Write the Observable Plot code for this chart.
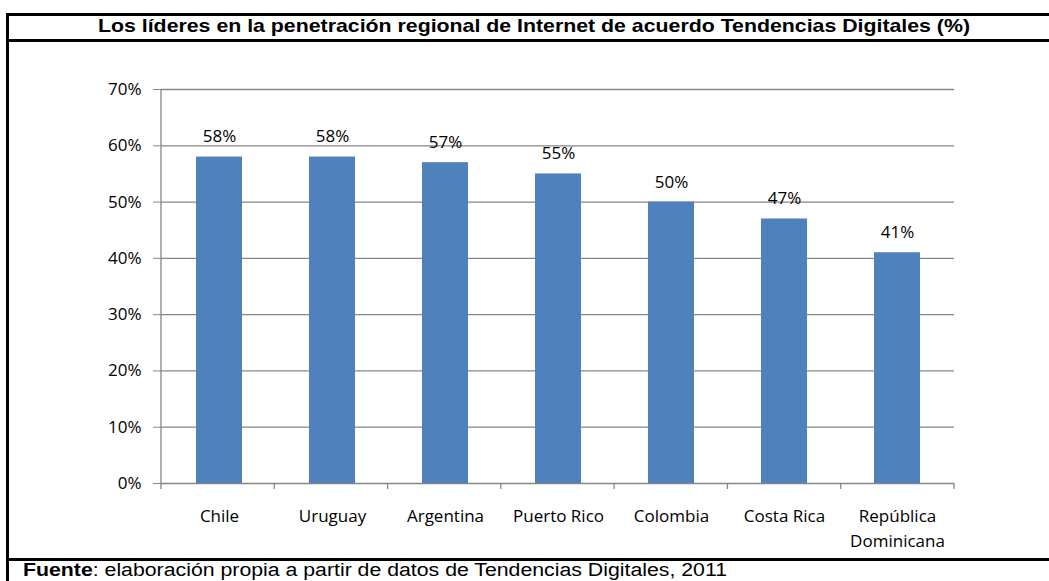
<!DOCTYPE html>
<html><head><meta charset="utf-8">
<script src="https://cdn.jsdelivr.net/npm/d3@7"></script>
<script src="https://cdn.jsdelivr.net/npm/@observablehq/plot@0.6"></script>
<style>
html,body{margin:0;padding:0;background:#fff;}
#page{position:relative;width:1049px;height:581px;overflow:hidden;background:#fff;}
.hl{position:absolute;background:#000;}
#title{position:absolute;left:98px;top:17px;font-family:"Liberation Sans",Arial,sans-serif;font-weight:bold;font-size:18.5px;line-height:18.5px;white-space:nowrap;transform-origin:0 0;color:#000;}
#footer{position:absolute;left:23px;top:561px;font-family:"Liberation Sans",Arial,sans-serif;font-size:18px;line-height:18px;white-space:nowrap;transform-origin:0 0;color:#000;}
#chart{position:absolute;left:0;top:42px;}
</style></head><body>
<div id="page">
  <div class="hl" style="left:6px;top:13px;width:1043px;height:3px"></div>
  <div class="hl" style="left:6px;top:39px;width:1043px;height:3px"></div>
  <div class="hl" style="left:6px;top:558px;width:1043px;height:3px"></div>
  <div class="hl" style="left:6px;top:13px;width:3px;height:570px"></div>
  <div id="title"></div>
  <div id="chart"></div>
  <div id="footer"></div>
</div>
<script>
const titleText = "Los líderes en la penetración regional de Internet de acuerdo Tendencias Digitales (%)";
const footerBold = "Fuente";
const footerRest = ": elaboración propia a partir de datos de Tendencias Digitales, 2011";
const categories = ["Chile", "Uruguay", "Argentina", "Puerto Rico", "Colombia", "Costa Rica", "República\nDominicana"];
const values = [58, 58, 57, 55, 50, 47, 41];
const yTicks = [0, 10, 20, 30, 40, 50, 60, 70];
const yTickLabels = ["0%", "10%", "20%", "30%", "40%", "50%", "60%", "70%"];

const data = categories.map((c, i) => ({cat: c, value: values[i]}));
const gray = "#868686";
const barColor = "#4F81BD";

function axisLines(index, scales, vals, dims) {
  const g = d3.create("svg:g").attr("stroke", gray).attr("stroke-width", 1.3).attr("fill", "none");
  const left = dims.marginLeft, right = dims.width - dims.marginRight;
  const y0 = scales.y(yTicks[0]), yTop = scales.y(yTicks[yTicks.length - 1]);
  g.append("line").attr("x1", left).attr("x2", left).attr("y1", yTop).attr("y2", y0);
  const n = categories.length;
  for (let i = 0; i <= n; i++) {
    const xx = left + i * (right - left) / n;
    g.append("line").attr("x1", xx).attr("x2", xx).attr("y1", y0).attr("y2", y0 + 6);
  }
  return g.node();
}

const chart = Plot.plot({
  width: 1049,
  height: 515,
  marginLeft: 161,
  marginRight: 95,
  marginTop: 47,
  marginBottom: 74,
  x: {domain: categories, paddingInner: 0.594, paddingOuter: 0.297, axis: null},
  y: {domain: [yTicks[0], yTicks[yTicks.length - 1]], axis: null},
  style: {fontFamily: "'Open Sans', sans-serif", fontSize: "17px", color: "#000", background: "transparent", overflow: "visible"},
  marks: [
    Plot.ruleY(yTicks, {stroke: gray, strokeWidth: 1.3}),
    Plot.barY(data, {x: "cat", y: "value", fill: barColor}),
    axisLines,
    Plot.axisY(yTicks, {label: null, tickFormat: d => yTickLabels[yTicks.indexOf(d)], tickSize: 8, tickPadding: 12, stroke: gray, fill: "#000", fontSize: 17}),
    Plot.axisX({label: null, tickSize: 0, tickPadding: 21, lineHeight: 1.47, fill: "#000", fontSize: 17}),
    Plot.text(data, {x: "cat", y: "value", text: d => d.value + "%", dy: -20, fontSize: 17, fill: "#000"})
  ]
});
document.getElementById("chart").appendChild(chart);

const t = document.getElementById("title");
t.textContent = titleText;
const tw = t.getBoundingClientRect().width;
t.style.transform = `scaleX(${872 / tw})`;

const f = document.getElementById("footer");
const b = document.createElement("b");
b.textContent = footerBold;
f.appendChild(b);
f.appendChild(document.createTextNode(footerRest));
const fw = f.getBoundingClientRect().width;
f.style.transform = `scaleX(${704 / fw})`;
</script>
</body></html>
